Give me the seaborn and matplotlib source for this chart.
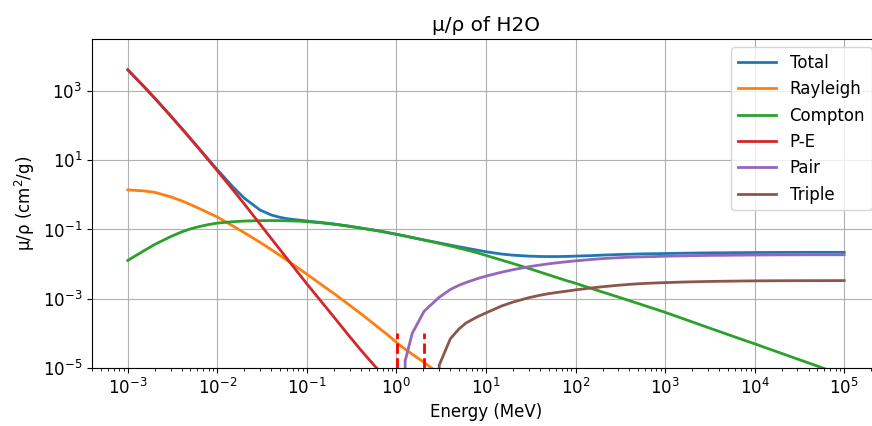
import matplotlib
matplotlib.use("Agg")
import matplotlib.pyplot as plt
import numpy as np
import pandas as pd
import seaborn as sns

nan = np.nan

# photon energy grid (MeV)
energy = [
    1e-3, 1.5e-3, 2e-3, 3e-3, 4e-3, 5e-3, 6e-3, 8e-3, 1e-2, 1.5e-2, 2e-2, 3e-2,
    4e-2, 5e-2, 6e-2, 8e-2, 0.1, 0.15, 0.2, 0.3, 0.4, 0.5, 0.6, 0.8, 1.0, 1.022,
    1.25, 1.5, 2.0, 2.044, 3, 4, 5, 6, 8, 10, 15, 20, 30, 40, 50, 60, 80, 100,
    150, 200, 300, 400, 500, 600, 800, 1e3, 1.5e3, 2e3, 3e3, 4e3, 5e3, 6e3, 8e3,
    1e4, 1.5e4, 2e4, 3e4, 4e4, 5e4, 6e4, 8e4, 1e5,
]

# mass attenuation coefficients (cm^2/g)
total = [
    4.08e3, 1.37e3, 618, 193, 82.8, 42.5, 24.6, 10.3, 5.32, 1.66, 0.80, 0.364,
    0.262, 0.224, 0.205, 0.187, 0.176, 0.157, 0.144, 0.124, 0.110, 0.100, 0.0932, 0.0811, 0.0726, 0.0719,
    0.0647, 0.0586, 0.0502, 0.0497, 0.0409, 0.0353, 0.0316, 0.0290, 0.0253, 0.0227, 0.0195, 0.0181, 0.0170, 0.0166, 0.0165, 0.0165, 0.0167, 0.0170,
    0.0176, 0.0182, 0.0189, 0.0193, 0.0196, 0.0198, 0.0200, 0.0202, 0.0206, 0.0208, 0.0211, 0.0212, 0.0213, 0.0214, 0.0215,
    0.0216, 0.0217, 0.0218, 0.0218, 0.0219, 0.0219, 0.0219, 0.0219, 0.0219,
]
rayleigh = [
    1.39, 1.30, 1.18, 0.88, 0.67, 0.525, 0.425, 0.30, 0.228, 0.125, 0.0805, 0.0425,
    0.0262, 0.0178, 0.0129, 0.0077, 0.0051, 0.0024, 0.00142, 6.5e-4, 3.7e-4, 2.35e-4, 1.62e-4, 9.0e-5, 5.5e-5, 5.2e-5,
    3.5e-5, 2.5e-5, 1.5e-5, 1.44e-5, 6.8e-6, nan, nan, nan, nan, nan, nan, nan, nan, nan, nan, nan, nan, nan,
    nan, nan, nan, nan, nan, nan, nan, nan, nan, nan, nan, nan, nan, nan, nan,
    nan, nan, nan, nan, nan, nan, nan, nan, nan,
]
compton = [
    0.0128, 0.024, 0.037, 0.062, 0.085, 0.104, 0.118, 0.139, 0.153, 0.168, 0.175, 0.180,
    0.181, 0.180, 0.178, 0.174, 0.168, 0.154, 0.142, 0.123, 0.110, 0.100, 0.093, 0.081, 0.0725, 0.0718,
    0.0646, 0.0585, 0.0498, 0.0492, 0.0398, 0.0334, 0.0290, 0.0258, 0.0212, 0.0178, 0.0130, 0.0104, 0.0075, 0.0059, 0.0049, 0.0042, 0.0033, 0.0028,
    1.98e-3, 1.56e-3, 1.12e-3, 8.8e-4, 7.3e-4, 6.25e-4, 4.9e-4, 4.05e-4, 2.8e-4, 2.15e-4, 1.48e-4, 1.14e-4, 9.3e-5, 7.9e-5, 6.1e-5,
    5.0e-5, 3.44e-5, 2.64e-5, 1.82e-5, 1.4e-5, 1.14e-5, 9.6e-6, 7.4e-6, 6.0e-6,
]
photoelectric = [
    4.08e3, 1.37e3, 617, 192, 82.0, 41.9, 24.1, 9.9, 4.94, 1.37, 0.544, 0.142,
    0.0547, 0.0263, 0.0144, 0.00557, 0.00268, 7.4e-4, 2.97e-4, 8.1e-5, 3.3e-5, 1.7e-5, 1.0e-5, 4.8e-6, 2.8e-6, nan,
    nan, nan, nan, nan, nan, nan, nan, nan, nan, nan, nan, nan, nan, nan, nan, nan, nan, nan,
    nan, nan, nan, nan, nan, nan, nan, nan, nan, nan, nan, nan, nan, nan, nan,
    nan, nan, nan, nan, nan, nan, nan, nan, nan,
]
pair = [
    nan, nan, nan, nan, nan, nan, nan, nan, nan, nan, nan, nan,
    nan, nan, nan, nan, nan, nan, nan, nan, nan, nan, nan, nan, nan, 0.0,
    1.6e-5, 1.0e-4, 4.0e-4, 4.4e-4, 1.1e-3, 1.85e-3, 2.45e-3, 2.95e-3, 3.8e-3, 4.5e-3, 5.85e-3, 6.9e-3, 8.4e-3, 9.4e-3, 1.02e-2, 1.08e-2, 1.17e-2, 1.24e-2,
    1.36e-2, 1.44e-2, 1.53e-2, 1.58e-2, 1.61e-2, 1.63e-2, 1.66e-2, 1.69e-2, 1.73e-2, 1.75e-2, 1.78e-2, 1.79e-2, 1.80e-2, 1.81e-2, 1.82e-2,
    1.83e-2, 1.84e-2, 1.85e-2, 1.85e-2, 1.86e-2, 1.86e-2, 1.86e-2, 1.86e-2, 1.86e-2,
]
triple = [
    nan, nan, nan, nan, nan, nan, nan, nan, nan, nan, nan, nan,
    nan, nan, nan, nan, nan, nan, nan, nan, nan, nan, nan, nan, nan, nan,
    nan, nan, nan, 0.0, 1.2e-5, 7.0e-5, 1.35e-4, 2.0e-4, 3.0e-4, 3.9e-4, 6.2e-4, 8.0e-4, 1.07e-3, 1.26e-3, 1.4e-3, 1.5e-3, 1.66e-3, 1.8e-3,
    2.05e-3, 2.22e-3, 2.45e-3, 2.6e-3, 2.7e-3, 2.77e-3, 2.86e-3, 2.92e-3, 3.02e-3, 3.08e-3, 3.15e-3, 3.19e-3, 3.21e-3, 3.23e-3, 3.26e-3,
    3.28e-3, 3.30e-3, 3.31e-3, 3.32e-3, 3.33e-3, 3.33e-3, 3.33e-3, 3.34e-3, 3.34e-3,
]

series_names = ["Total", "Rayleigh", "Compton", "P-E", "Pair", "Triple"]
series_values = [total, rayleigh, compton, photoelectric, pair, triple]

# pair / triplet production thresholds (MeV)
thresholds = [1.022, 2.044]


def main() -> None:
    plt.rcParams["font.size"] = 12

    df = pd.concat(
        [pd.DataFrame({"Energy": energy, "mu": vals, "process": name})
         for name, vals in zip(series_names, series_values)],
        ignore_index=True,
    ).dropna()

    fig = plt.figure(figsize=(8.72, 4.26), dpi=100)
    ax = fig.add_axes([92 / 872, 58 / 426, 788 / 872, 329 / 426])

    sns.lineplot(data=df, x="Energy", y="mu", hue="process", hue_order=series_names,
                 palette="tab10", estimator=None, sort=False, linewidth=2, ax=ax)
    ax.vlines(thresholds, 1e-5, 1e-4, colors="r", linestyles="--", linewidth=2)

    ax.set_xscale("log")
    ax.set_yscale("log")
    ax.set_xlim(10 ** -3.4, 10 ** 5.4)
    ax.set_ylim(1e-5, 10 ** 4.5)
    ax.grid(True)

    handles, labels = ax.get_legend_handles_labels()
    ax.legend(handles, labels, loc="upper right", handlelength=2.3)

    ax.set_title("μ/ρ of H2O")
    ax.set_xlabel("Energy (MeV)")
    ax.set_ylabel("μ/ρ (cm$^2$/g)")

    fig.savefig("out.png", dpi=100)
    plt.close(fig)


if __name__ == "__main__":
    main()
